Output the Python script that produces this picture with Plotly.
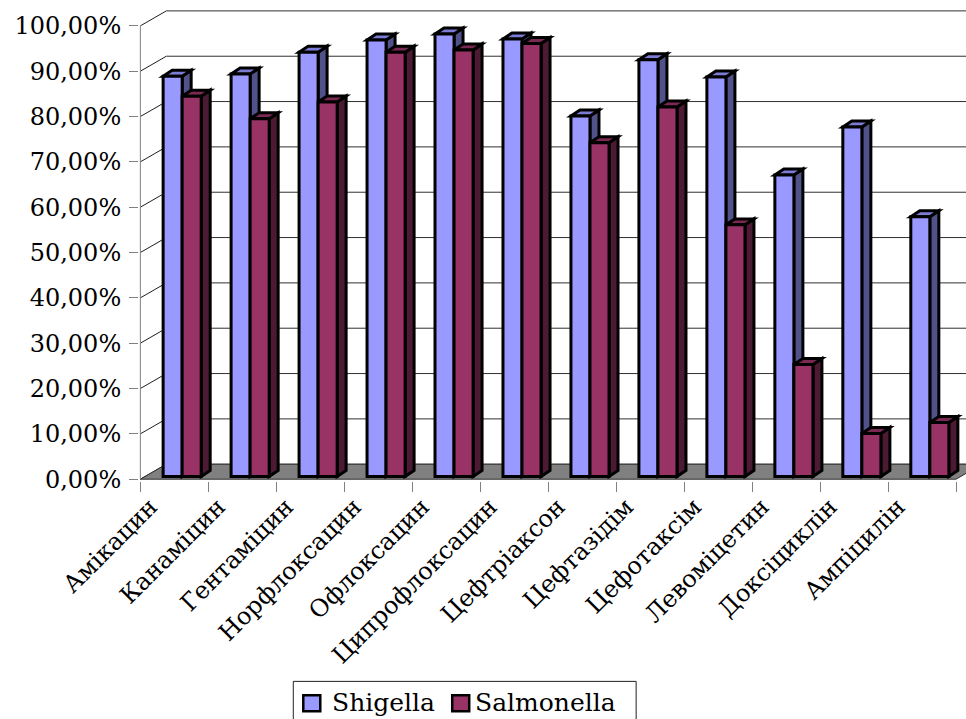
import plotly.graph_objects as go

# Antibiotic sensitivity of Shigella and Salmonella isolates (share of sensitive strains)
antibiotics = ["Амікацин", "Канаміцин", "Гентаміцин", "Норфлоксацин", "Офлоксацин",
               "Ципрофлоксацин", "Цефтріаксон", "Цефтазідім", "Цефотаксім",
               "Левоміцетин", "Доксіциклін", "Ампіцилін"]
shigella = [0.883, 0.888, 0.936, 0.963, 0.976, 0.965, 0.795, 0.919, 0.881, 0.665, 0.771, 0.573]
salmonella = [0.839, 0.789, 0.826, 0.936, 0.941, 0.955, 0.736, 0.815, 0.555, 0.247, 0.095, 0.119]
y_ticks = [i / 10 for i in range(11)]

# ---- pseudo-3D geometry (axis units) ----
PX_X = 68.0          # pixels per category
PX_Y = 454.0         # pixels per 100 %
WALL_DX = 26 / PX_X  # depth offset of the back wall
WALL_DY = 15 / PX_Y
BAR_DX = 9 / PX_X    # depth of one column
BAR_DY = 6 / PX_Y
BAR_BASE = 0.006     # columns stand slightly behind the front edge of the floor
BAR_W = 0.28
SERIES = [
    dict(name="Shigella", values=shigella, offset=0.335,
         front="#9999FF", side="#52528A", top="#7C7CD6"),
    dict(name="Salmonella", values=salmonella, offset=0.615,
         front="#993366", side="#4D1A33", top="#7A2952"),
]

n = len(antibiotics)
x_left = -0.5
x_max = x_left + (966 - 140) / PX_X
SERIF = "DejaVu Serif"

shapes = []


def poly(points, fill, line_color="black", width=3):
    path = "M " + " L ".join(f"{x},{y}" for x, y in points) + " Z"
    shapes.append(dict(type="path", path=path, xref="x", yref="y", layer="below",
                       fillcolor=fill, line=dict(color=line_color, width=width)))


def seg(x0, y0, x1, y1, color, width=1):
    shapes.append(dict(type="line", x0=x0, y0=y0, x1=x1, y1=y1, xref="x", yref="y",
                       layer="below", line=dict(color=color, width=width)))


# gridlines on the left side wall and the back wall
for v in y_ticks:
    seg(x_left, v, x_left + WALL_DX, v + WALL_DY, "#202020")
    seg(x_left + WALL_DX, v + WALL_DY, x_max + 1, v + WALL_DY, "#303030")

# floor
poly([(x_left, 0), (x_left + n, 0), (x_left + n + WALL_DX, WALL_DY),
      (x_left + WALL_DX, WALL_DY)], "#808080", "#303030", 1)
# front value axis line
seg(x_left, 0, x_left, 1.0, "#808080", 1)

# side and top faces of every column (front faces are the bar traces)
for i in range(n):
    for s in SERIES:
        x0 = i - 0.5 + s["offset"]
        x1 = x0 + BAR_W
        b = BAR_BASE
        t = b + s["values"][i]
        poly([(x1, b), (x1 + BAR_DX, b + BAR_DY), (x1 + BAR_DX, t + BAR_DY), (x1, t)], s["side"])
        poly([(x0, t), (x0 + BAR_DX, t + BAR_DY), (x1 + BAR_DX, t + BAR_DY), (x1, t)], s["top"])

fig = go.Figure()
for s in SERIES:
    fig.add_trace(go.Bar(
        x=antibiotics, y=s["values"], base=BAR_BASE, name=s["name"],
        offset=s["offset"] - 0.5, width=BAR_W,
        marker=dict(color=s["front"], line=dict(color="black", width=3)),
        hovertemplate="%{x}: %{y:.2%}<extra>" + s["name"] + "</extra>",
        showlegend=False,
    ))

plot_left = 140 - 0.02 * PX_X
y_lo, y_hi = -0.004, 1.035
zero_px = 479.5
plot_top = zero_px - y_hi * PX_Y
plot_bottom = zero_px - y_lo * PX_Y


def px_to_paper(px, py):
    return ((px - plot_left) / (966 - plot_left),
            (plot_bottom - py) / (plot_bottom - plot_top))


# legend box with the two series keys
annotations = []
bx0, by0 = px_to_paper(293, 682)
bx1, by1 = px_to_paper(636, 730)
shapes.append(dict(type="rect", xref="paper", yref="paper", x0=bx0, y0=by0, x1=bx1, y1=by1,
                   line=dict(color="#202020", width=1), fillcolor="white", layer="above"))
for s, key_x, text_x in ((SERIES[0], 303, 330), (SERIES[1], 452, 473)):
    kx0, ky0 = px_to_paper(key_x, 696)
    kx1, ky1 = px_to_paper(key_x + 17, 712)
    shapes.append(dict(type="rect", xref="paper", yref="paper", x0=kx0, y0=ky0, x1=kx1, y1=ky1,
                       line=dict(color="black", width=2.5), fillcolor=s["front"], layer="above"))
    tx, ty = px_to_paper(text_x, 703)
    annotations.append(dict(text=s["name"], xref="paper", yref="paper", x=tx, y=ty,
                            xanchor="left", yanchor="middle", showarrow=False,
                            font=dict(family=SERIF, size=25, color="black")))

fig.update_layout(
    width=966, height=719,
    template="none",
    paper_bgcolor="white", plot_bgcolor="rgba(0,0,0,0)",
    margin=dict(l=plot_left, r=0, t=plot_top, b=719 - plot_bottom, autoexpand=False),
    barmode="overlay",
    separators=", ",
    shapes=shapes,
    annotations=annotations,
    font=dict(family=SERIF, color="black"),
    xaxis=dict(
        type="category", categoryorder="array", categoryarray=antibiotics,
        range=[x_left - 0.02, x_max], tickson="boundaries",
        ticks="outside", ticklen=10, tickcolor="#808080", tickwidth=1,
        tickangle=-45, tickfont=dict(size=24, family=SERIF),
        ticklabelshift=-24, ticklabelstandoff=6,
        showgrid=False, showline=False, zeroline=False, automargin=False,
    ),
    yaxis=dict(
        range=[y_lo, y_hi], tickvals=y_ticks, tickformat=".2%",
        ticks="outside", ticklen=9, tickcolor="#808080", tickwidth=1,
        ticklabelstandoff=3,
        tickfont=dict(size=24, family=SERIF),
        showgrid=False, showline=False, zeroline=False, automargin=False,
    ),
    showlegend=False,
)

fig.write_html("out.html")
